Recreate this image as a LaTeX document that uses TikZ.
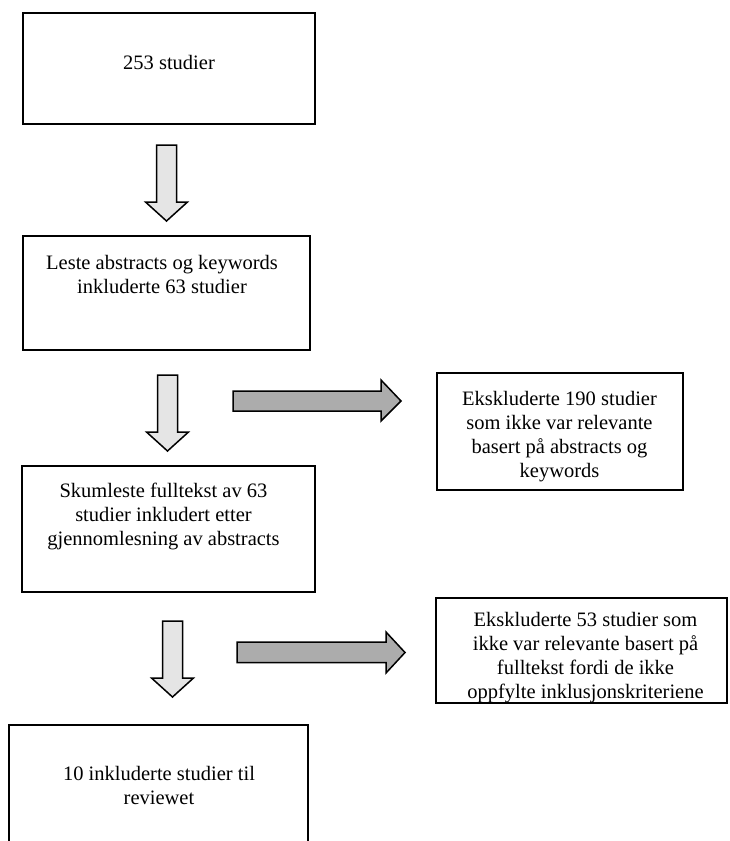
\documentclass[tikz,border=0pt]{standalone}
\usepackage{fontspec}
\setmainfont{Liberation Serif}
\begin{document}
\begin{tikzpicture}[x=1pt,y=-1pt,
  box/.style={draw=black, line width=1.4pt, fill=white, inner sep=0pt},
  txt/.style={align=center, inner sep=0pt, font=\fontsize{20.5}{24}\selectfont},
  downarr/.style={draw=black, line width=1.5pt, fill=black!10, line join=miter},
  sidearr/.style={draw=black, line width=1.5pt, fill=gray!65!white, line join=miter}]
\useasboundingbox (0,0) rectangle (729,841);
\clip (0,0) rectangle (729,841);

% main column
\node[box, minimum width=292, minimum height=111] (b1) at (169,68.5) {};
\node[txt] (t1) at (169,62) {253 studier};

\node[box, minimum width=287, minimum height=114] (b2) at (166.5,293) {};
\node[txt] (t2) at (162,274) {Leste abstracts og keywords\\inkluderte 63 studier};

\node[box, minimum width=293, minimum height=126] (b3) at (168.5,529) {};
\node[txt] (t3) at (163.5,516) {Skumleste fulltekst av 63\\studier inkludert etter\\gjennomlesning av abstracts};

\node[box, minimum width=299, minimum height=140] (b4) at (158.5,795) {};
\node[txt] (t4) at (159,785) {10 inkluderte studier til\\reviewet};

% exclusion boxes
\node[box, minimum width=246, minimum height=117] (e1) at (560,431.5) {};
\node[txt] (te1) at (559.5,437) {Ekskluderte 190 studier\\som ikke var relevante\\basert på abstracts og\\keywords};

\node[box, minimum width=291, minimum height=105] (e2) at (581.5,650.5) {};
\node[txt] (te2) at (585.5,657.5) {Ekskluderte 53 studier som\\ikke var relevante basert på\\fulltekst fordi de ikke\\oppfylte inklusjonskriteriene};

% anchor points of the block arrows
\coordinate (d1) at (166.5,145);
\coordinate (d2) at (167.5,375);
\coordinate (d3) at (172.5,621);
\coordinate (r1) at (233,401);
\coordinate (r2) at (237,652.5);

% downward block arrows
\foreach \p in {d1,d2,d3}{
  \draw[downarr] (\p) ++(-10,0) -- ++(20,0) -- ++(0,57) -- ++(11,0)
        -- ++(-21,19) -- ++(-21,-19) -- ++(11,0) -- cycle;
}

% sideways block arrows towards the exclusion boxes
\draw[sidearr] (r1) ++(0,-10) -- ++(148,0) -- ++(0,-11) -- ++(20,21)
      -- ++(-20,20) -- ++(0,-10) -- ++(-148,0) -- cycle;
\draw[sidearr] (r2) ++(0,-10.5) -- ++(149,0) -- ++(0,-10) -- ++(19,20.5)
      -- ++(-19,20.5) -- ++(0,-10.5) -- ++(-149,0) -- cycle;
\end{tikzpicture}
\end{document}
